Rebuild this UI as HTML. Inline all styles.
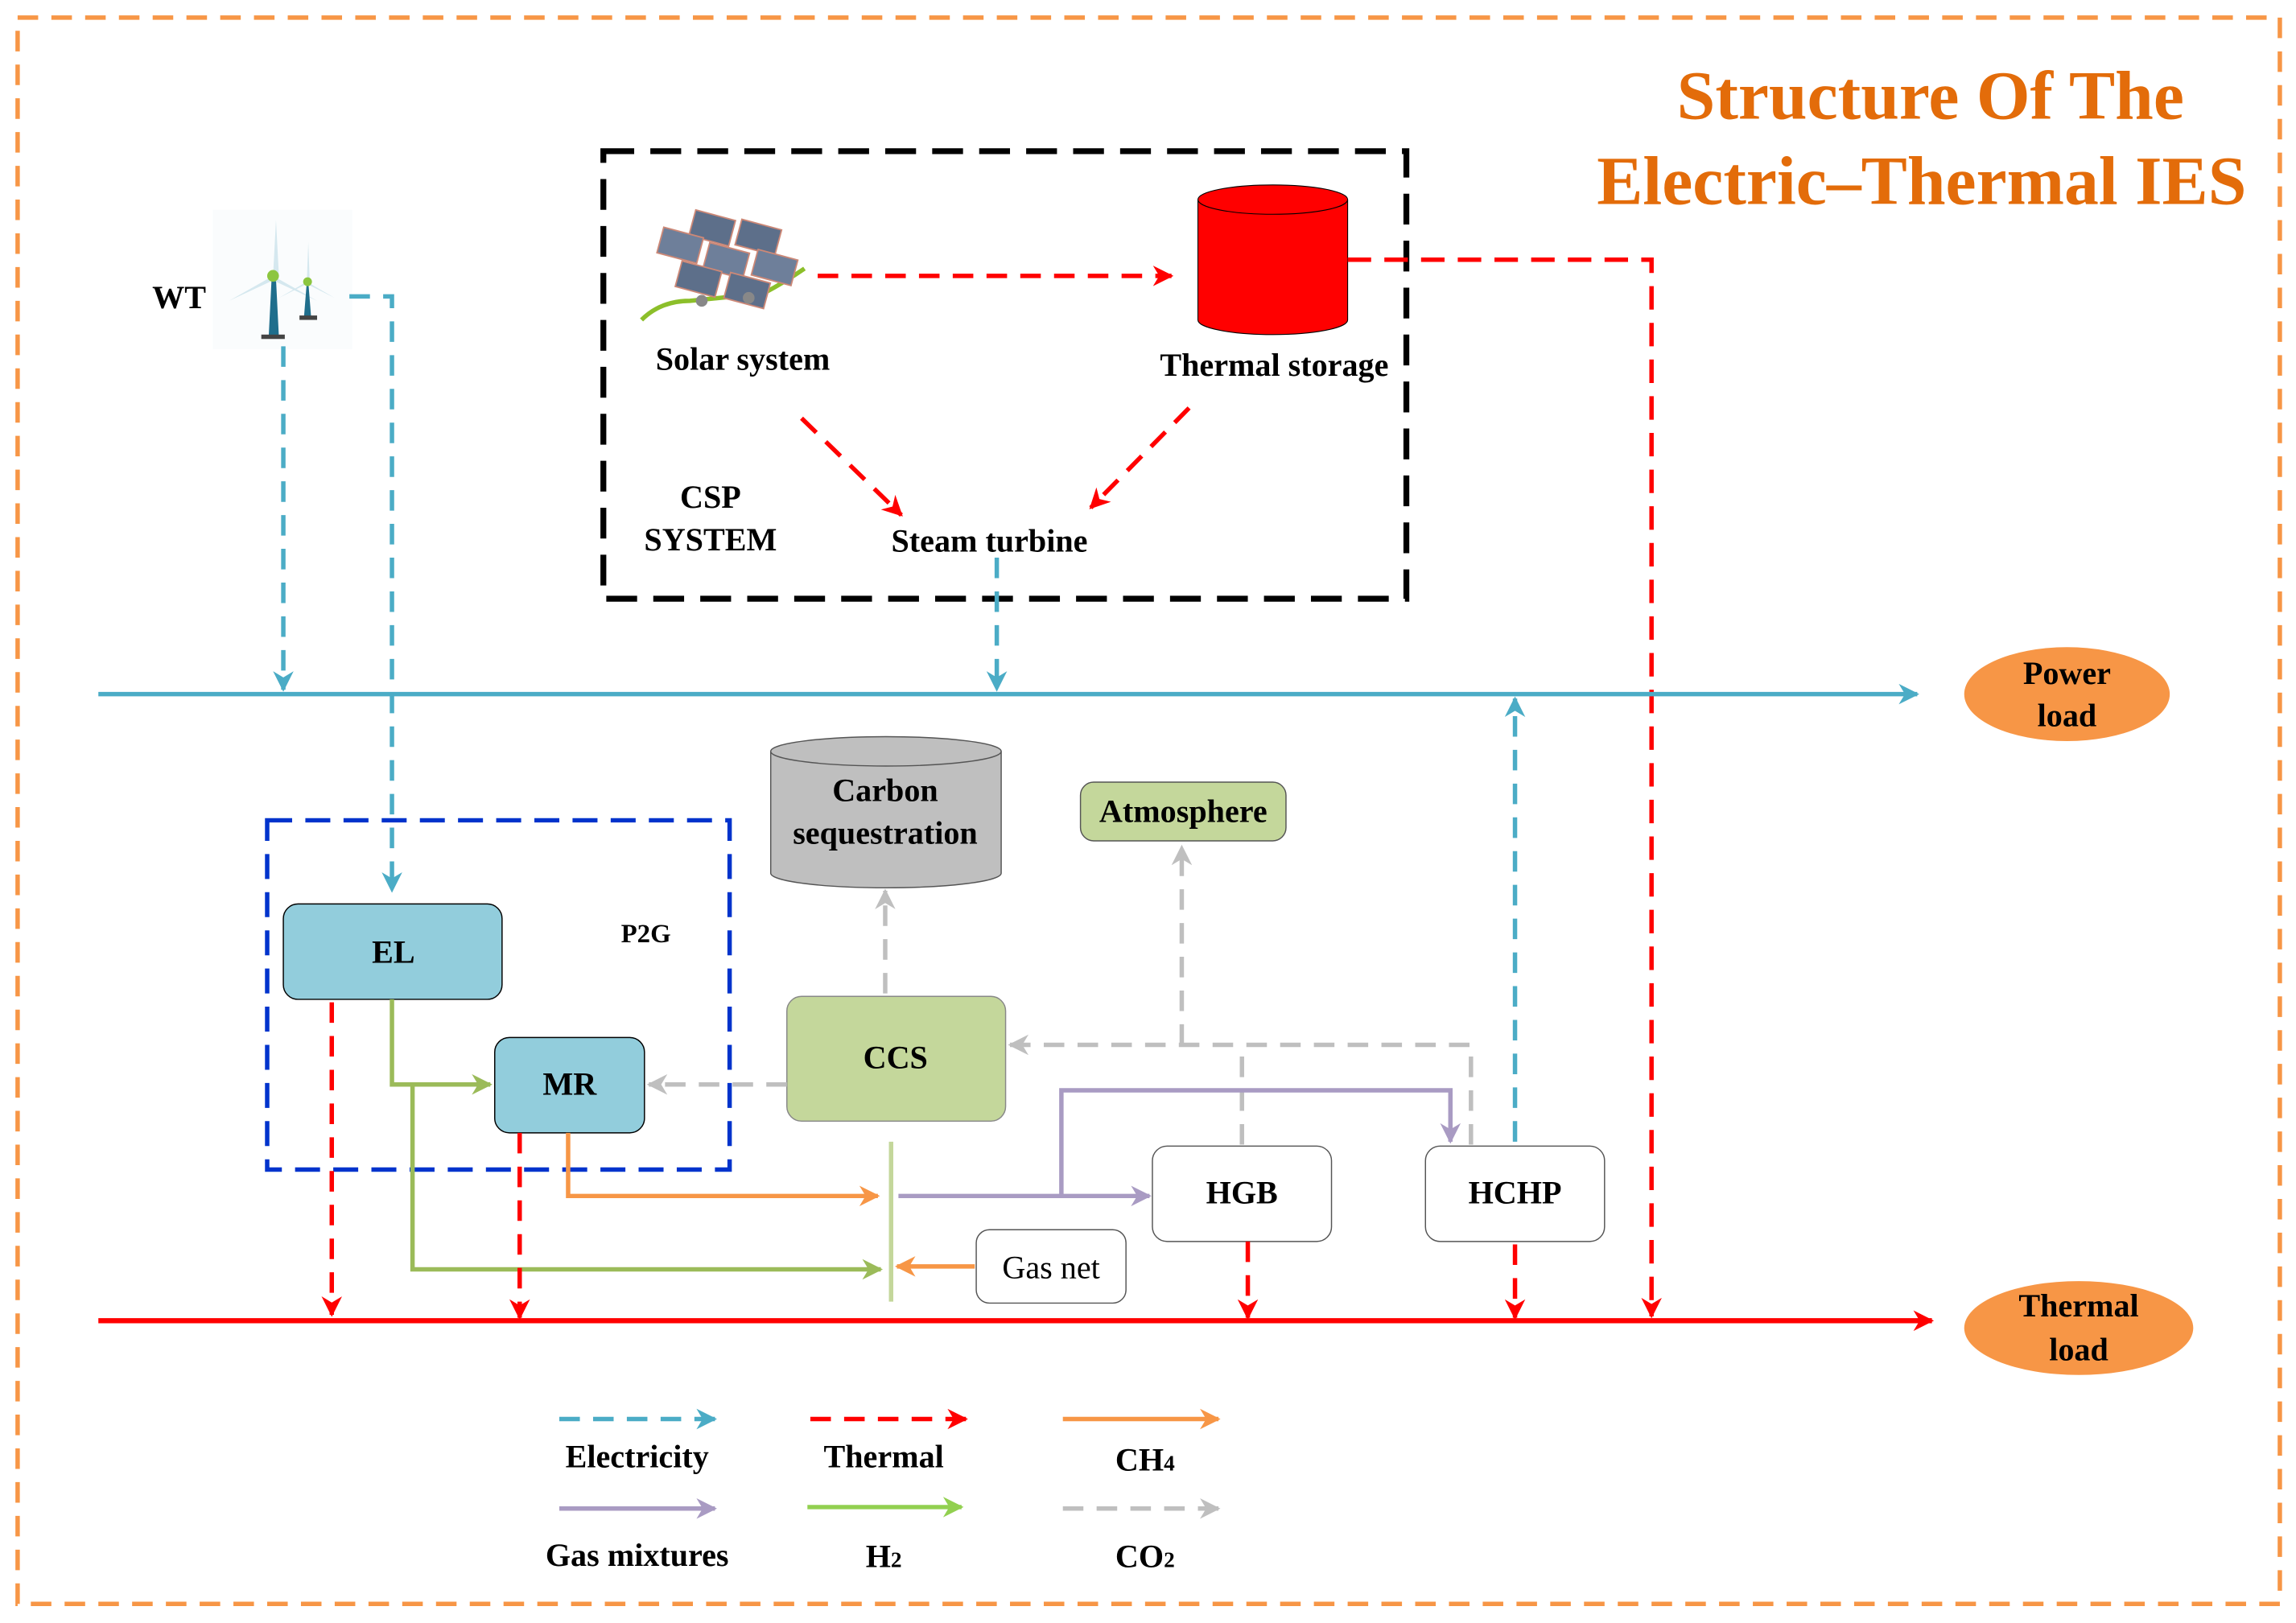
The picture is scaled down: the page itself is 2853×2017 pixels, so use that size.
<!DOCTYPE html>
<html><head><meta charset="utf-8"><style>html,body{margin:0;padding:0;background:#fff}svg{display:block}text{font-family:"Liberation Serif",serif;font-weight:bold;fill:#000}</style></head><body>
<svg width="2853" height="2017" viewBox="0 0 1564 1106" preserveAspectRatio="none" xmlns="http://www.w3.org/2000/svg">
<defs>
<marker id="ab2" viewBox="0 0 10 10" refX="9" refY="5" markerWidth="14" markerHeight="14" markerUnits="userSpaceOnUse" orient="auto"><path d="M0,0L10,5L0,10L3,5z" fill="#4BACC6"/></marker>
<marker id="ar" viewBox="0 0 10 10" refX="9" refY="5" markerWidth="14" markerHeight="14" markerUnits="userSpaceOnUse" orient="auto"><path d="M0,0L10,5L0,10L3,5z" fill="#f00"/></marker>
<marker id="ag" viewBox="0 0 10 10" refX="9" refY="5" markerWidth="14" markerHeight="14" markerUnits="userSpaceOnUse" orient="auto"><path d="M0,0L10,5L0,10L3,5z" fill="#9BBB59"/></marker>
<marker id="ag2" viewBox="0 0 10 10" refX="9" refY="5" markerWidth="14" markerHeight="14" markerUnits="userSpaceOnUse" orient="auto"><path d="M0,0L10,5L0,10L3,5z" fill="#92D050"/></marker>
<marker id="ao" viewBox="0 0 10 10" refX="9" refY="5" markerWidth="14" markerHeight="14" markerUnits="userSpaceOnUse" orient="auto"><path d="M0,0L10,5L0,10L3,5z" fill="#F79646"/></marker>
<marker id="ap" viewBox="0 0 10 10" refX="9" refY="5" markerWidth="14" markerHeight="14" markerUnits="userSpaceOnUse" orient="auto"><path d="M0,0L10,5L0,10L3,5z" fill="#A99BC3"/></marker>
<marker id="ay" viewBox="0 0 10 10" refX="9" refY="5" markerWidth="14" markerHeight="14" markerUnits="userSpaceOnUse" orient="auto"><path d="M0,0L10,5L0,10L3,5z" fill="#BFBFBF"/></marker>
</defs>
<rect x="12" y="12" width="1541" height="1081" fill="none" stroke="#F79646" stroke-width="3" stroke-dasharray="14,9"/>
<text x="1315" y="81" font-size="47" text-anchor="middle" style="fill:#E36C0A">Structure Of The</text>
<text x="1309" y="139" font-size="47" text-anchor="middle" style="fill:#E36C0A">Electric–Thermal IES</text>

<g>
<rect x="145" y="143" width="95" height="95" fill="#fafcfd"/>
<polygon points="183,230 185,190 188,190 190,230" fill="#1f6e8c"/>
<rect x="178" y="228" width="16" height="3" fill="#444"/>
<path d="M186,188 L188,150 L190,188z M186,188 L156,205 L184,192z M186,188 L216,205 L188,192z" fill="#d5e8ef"/>
<circle cx="186" cy="188" r="4" fill="#8cc63f"/>
<polygon points="207,217 209,192 210,192 212,217" fill="#1f6e8c"/>
<rect x="204" y="215" width="12" height="3" fill="#444"/>
<path d="M209,192 L210,165 L211,192z M209,192 L190,203 L208,194z M209,192 L228,203 L210,194z" fill="#d5e8ef"/>
<circle cx="209.5" cy="192" r="3" fill="#8cc63f"/>
</g>
<text x="122" y="210" font-size="22" text-anchor="middle">WT</text>

<rect x="411" y="103" width="547" height="305" fill="none" stroke="#000" stroke-width="4" stroke-dasharray="21,11"/>
<g stroke="#c87" stroke-width="1">
<path d="M437,218 Q450,205 470,205 L520,200 Q535,192 548,183" fill="none" stroke="#8cbf2a" stroke-width="3"/>
<g transform="rotate(15 492 180)">
<rect x="465" y="149" width="28" height="18" fill="#5d6f8a"/>
<rect x="497" y="147" width="28" height="18" fill="#5d6f8a"/>
<rect x="447" y="166" width="28" height="18" fill="#6e7f9a"/>
<rect x="480" y="168" width="28" height="18" fill="#6e7f9a"/>
<rect x="513" y="164" width="28" height="18" fill="#6e7f9a"/>
<rect x="465" y="185" width="28" height="18" fill="#5d6f8a"/>
<rect x="499" y="184" width="28" height="18" fill="#5d6f8a"/>
</g>
<circle cx="478" cy="205" r="4" fill="#888" stroke="none"/>
<circle cx="510" cy="203" r="4" fill="#888" stroke="none"/>
</g>
<text x="506" y="252" font-size="22" text-anchor="middle">Solar system</text>
<line x1="557" y1="188" x2="798" y2="188" stroke="#f00" stroke-width="3" stroke-dasharray="14,9" marker-end="url(#ar)"/>
<path d="M816,136 L816,218 A51,10 0 0 0 918,218 L918,136" fill="#f00" stroke="#000" stroke-width="0.6"/>
<ellipse cx="867" cy="136" rx="51" ry="10" fill="#f00" stroke="#000" stroke-width="0.6"/>
<text x="868" y="256" font-size="22" text-anchor="middle">Thermal storage</text>
<line x1="546" y1="285" x2="614" y2="351" stroke="#f00" stroke-width="3" stroke-dasharray="14,9" marker-end="url(#ar)"/>
<line x1="810" y1="278" x2="743" y2="346" stroke="#f00" stroke-width="3" stroke-dasharray="14,9" marker-end="url(#ar)"/>
<text x="484" y="346" font-size="22" text-anchor="middle">CSP</text>
<text x="484" y="375" font-size="22" text-anchor="middle">SYSTEM</text>
<text x="674" y="376" font-size="22" text-anchor="middle">Steam turbine</text>

<polyline points="918,177 1125,177 1125,897" fill="none" stroke="#f00" stroke-width="3" stroke-dasharray="16,9" marker-end="url(#ar)"/>

<line x1="67" y1="473" x2="1306" y2="473" stroke="#4BACC6" stroke-width="3" marker-end="url(#ab2)"/>
<ellipse cx="1408" cy="473" rx="70" ry="32" fill="#F79646"/>
<text x="1408" y="466" font-size="22" text-anchor="middle">Power</text>
<text x="1408" y="495" font-size="22" text-anchor="middle">load</text>
<line x1="679" y1="380" x2="679" y2="470" stroke="#4BACC6" stroke-width="3" stroke-dasharray="14,9" marker-end="url(#ab2)"/>
<line x1="193" y1="236" x2="193" y2="470" stroke="#4BACC6" stroke-width="3" stroke-dasharray="14,9" marker-end="url(#ab2)"/>
<polyline points="238,202 267,202 267,607" fill="none" stroke="#4BACC6" stroke-width="3" stroke-dasharray="14,9" marker-end="url(#ab2)"/>
<line x1="1032" y1="778" x2="1032" y2="476" stroke="#4BACC6" stroke-width="3" stroke-dasharray="14,9" marker-end="url(#ab2)"/>

<line x1="67" y1="900" x2="1316" y2="900" stroke="#f00" stroke-width="3.5" marker-end="url(#ar)"/>
<ellipse cx="1416" cy="905" rx="78" ry="32" fill="#F79646"/>
<text x="1416" y="897" font-size="22" text-anchor="middle">Thermal</text>
<text x="1416" y="927" font-size="22" text-anchor="middle">load</text>

<rect x="182" y="559" width="315" height="238" fill="none" stroke="#0033CC" stroke-width="3" stroke-dasharray="17,9"/>
<text x="440" y="642" font-size="18" text-anchor="middle">P2G</text>
<rect x="193" y="616" width="149" height="65" rx="10" fill="#92CDDC" stroke="#000" stroke-width="0.8"/>
<text x="268" y="656" font-size="22" text-anchor="middle">EL</text>
<rect x="337" y="707" width="102" height="65" rx="10" fill="#92CDDC" stroke="#000" stroke-width="0.8"/>
<text x="388" y="746" font-size="22" text-anchor="middle">MR</text>

<path d="M525,512 L525,595 A78.5,10 0 0 0 682,595 L682,512" fill="#BFBFBF" stroke="#555" stroke-width="0.8"/>
<ellipse cx="603.5" cy="512" rx="78.5" ry="10" fill="#BFBFBF" stroke="#555" stroke-width="0.8"/>
<text x="603" y="546" font-size="22" text-anchor="middle">Carbon</text>
<text x="603" y="575" font-size="22" text-anchor="middle">sequestration</text>
<rect x="736" y="533" width="140" height="40" rx="9" fill="#C4D79B" stroke="#555" stroke-width="0.8"/>
<text x="806" y="560" font-size="22" text-anchor="middle">Atmosphere</text>
<rect x="536" y="679" width="149" height="85" rx="10" fill="#C4D79B" stroke="#888" stroke-width="0.8"/>
<text x="610" y="728" font-size="22" text-anchor="middle">CCS</text>

<g stroke="#BFBFBF" stroke-width="3" fill="none">
<line x1="603" y1="677" x2="603" y2="607" stroke-dasharray="14,9" marker-end="url(#ay)"/>
<polyline points="1002,780 1002,712 688,712" stroke-dasharray="14,9" marker-end="url(#ay)"/>
<line x1="805" y1="712" x2="805" y2="577" stroke-dasharray="14,9" marker-end="url(#ay)"/>
<line x1="846" y1="780" x2="846" y2="712" stroke-dasharray="14,9"/>
<line x1="536" y1="739" x2="442" y2="739" stroke-dasharray="14,9" marker-end="url(#ay)"/>
</g>

<polyline points="267,681 267,739 334,739" fill="none" stroke="#9BBB59" stroke-width="3" marker-end="url(#ag)"/>
<polyline points="281,739 281,865 600,865" fill="none" stroke="#9BBB59" stroke-width="3" marker-end="url(#ag)"/>
<polyline points="387,772 387,815 598,815" fill="none" stroke="#F79646" stroke-width="3" marker-end="url(#ao)"/>
<line x1="664" y1="863" x2="611" y2="863" stroke="#F79646" stroke-width="3" marker-end="url(#ao)"/>
<line x1="607" y1="778" x2="607" y2="887" stroke="#C4D79B" stroke-width="3"/>
<line x1="612" y1="815" x2="783" y2="815" stroke="#A99BC3" stroke-width="3" marker-end="url(#ap)"/>
<polyline points="723,815 723,743 988,743 988,778" fill="none" stroke="#A99BC3" stroke-width="3" marker-end="url(#ap)"/>

<rect x="785" y="781" width="122" height="65" rx="10" fill="#fff" stroke="#555" stroke-width="0.8"/>
<text x="846" y="820" font-size="22" text-anchor="middle">HGB</text>
<rect x="971" y="781" width="122" height="65" rx="10" fill="#fff" stroke="#555" stroke-width="0.8"/>
<text x="1032" y="820" font-size="22" text-anchor="middle">HCHP</text>
<rect x="665" y="838" width="102" height="50" rx="9" fill="#fff" stroke="#555" stroke-width="0.8"/>
<text x="716" y="871" font-size="22" text-anchor="middle" style="font-weight:normal">Gas net</text>

<g stroke="#f00" stroke-width="3" fill="none" stroke-dasharray="14,9">
<line x1="226" y1="683" x2="226" y2="896" marker-end="url(#ar)"/>
<line x1="354" y1="772" x2="354" y2="898" marker-end="url(#ar)"/>
<line x1="850" y1="846" x2="850" y2="898" marker-end="url(#ar)"/>
<line x1="1032" y1="848" x2="1032" y2="898" marker-end="url(#ar)"/>
</g>

<line x1="381" y1="967" x2="487" y2="967" stroke="#4BACC6" stroke-width="3" stroke-dasharray="14,9" marker-end="url(#ab2)"/>
<line x1="552" y1="967" x2="658" y2="967" stroke="#f00" stroke-width="3" stroke-dasharray="14,9" marker-end="url(#ar)"/>
<line x1="724" y1="967" x2="830" y2="967" stroke="#F79646" stroke-width="3" marker-end="url(#ao)"/>
<line x1="381" y1="1028" x2="487" y2="1028" stroke="#A99BC3" stroke-width="3" marker-end="url(#ap)"/>
<line x1="550" y1="1027" x2="655" y2="1027" stroke="#92D050" stroke-width="3" marker-end="url(#ag2)"/>
<line x1="724" y1="1028" x2="830" y2="1028" stroke="#BFBFBF" stroke-width="3" stroke-dasharray="14,9" marker-end="url(#ay)"/>
<text x="434" y="1000" font-size="22" text-anchor="middle">Electricity</text>
<text x="602" y="1000" font-size="22" text-anchor="middle">Thermal</text>
<text x="780" y="1002" font-size="22" text-anchor="middle">CH<tspan font-size="15">4</tspan></text>
<text x="434" y="1067" font-size="22" text-anchor="middle">Gas mixtures</text>
<text x="602" y="1068" font-size="22" text-anchor="middle">H<tspan font-size="15">2</tspan></text>
<text x="780" y="1068" font-size="22" text-anchor="middle">CO<tspan font-size="15">2</tspan></text>
</svg>
</body></html>
